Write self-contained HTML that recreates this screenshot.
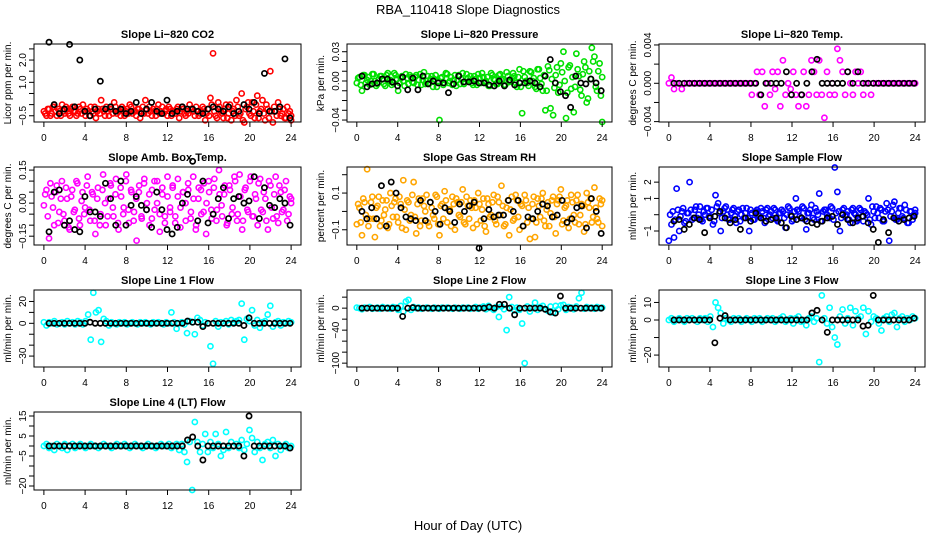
<!DOCTYPE html>
<html><head><meta charset="utf-8"><style>
html,body{margin:0;padding:0;background:#fff;}
svg{display:block;font-family:"Liberation Sans",Arial,sans-serif;}
</style></head><body>
<svg id="fig" width="936" height="540" viewBox="0 0 936 540" xmlns="http://www.w3.org/2000/svg">
<text x="468" y="14" text-anchor="middle" font-size="13">RBA_110418  Slope Diagnostics</text>
<text x="468" y="530" text-anchor="middle" font-size="13">Hour of Day (UTC)</text>
</svg>
<script>
const xTicks = [0,4,8,12,16,20,24];
const co2 = [-0.3,-0.5,-0.2,-0.4,-0.1,-0.5,-0.3,0.0,-0.4,-0.2,-0.5,-0.1,-0.3,-0.4,-0.2,0.0,-0.5,-0.3,-0.1,-0.4,-0.6,-0.2,0.2,-0.3,-0.1,-0.5,-0.2,0.1,-0.4,-0.3,-0.1,-0.5,-0.2,0.0,-0.4,-0.3,-0.2,-0.6,-0.1,0.2,-0.4,-0.3,-0.2,-0.5,0.0,-0.3,-0.4,-0.2,-0.1,-0.5,-0.3,-0.2,-0.6,-0.1,-0.4,-0.3,0.0,-0.2,-0.5,-0.3,-0.4,-0.1,-0.7,-0.2,0.3,2.3,-0.5,0.1,-0.3,-0.6,0.0,-0.4,-0.7,-0.2,0.2,-0.5,0.5,-0.8,-0.1,-0.4,0.1,-0.6,0.4,-0.3,0.2,-0.7,-0.2,1.5,-0.8,-0.3,0.1,-0.5,-0.2,-0.6,-0.4,-0.7];
const co2B = [-0.4,-0.2,-0.5,-0.1,-0.3,-0.2,-0.5,-0.3,-0.1,-0.4,-0.2,-0.3,-0.5,-0.1,-0.4,-0.3,-0.2,-0.5,-0.3,-0.1,-0.3,-0.4,-0.2,-0.5,-0.3,-0.2,-0.4,-0.1,-0.3,-0.5,-0.2,-0.3,-0.4,-0.1,-0.3,-0.5,-0.2,-0.3,-0.4,-0.2,-0.1,-0.5,-0.3,-0.2,-0.4,-0.1,-0.3,-0.5,-0.2,-0.3,-0.4,-0.1,-0.3,-0.2,-0.5,-0.4,-0.2,-0.3,-0.1,-0.5,-0.3,-0.2,-0.4,-0.5,0.0,-0.3,-0.6,-0.1,-0.4,-0.2,-0.6,0.0,-0.3,-0.5,-0.1,-0.4,-0.7,-0.2,0.1,-0.5,-0.3,0.0,-0.6,-0.2,-0.4,0.0,-0.6,-0.3,-0.1,-0.5,-0.2,-0.4,-0.6,-0.1,-0.3,-0.5];
const co2Black = [2.8,0.0,-0.4,-0.2,2.7,-0.1,2.0,-0.3,-0.5,-0.2,1.05,-0.2,-0.1,-0.3,-0.2,-0.4,-0.3,0.1,-0.4,-0.2,0.1,-0.3,-0.4,0.2,-0.4,-0.3,-0.1,-0.2,-0.2,-0.3,-0.4,-0.2,-0.1,-0.2,-0.3,-0.1,-0.4,-0.3,0.0,-0.2,0.1,-0.4,1.4,-0.3,-0.3,-0.1,2.05,-0.6];
const pres = [-0.002,0.004,-0.01,0.006,0.001,-0.004,0.007,0.0,-0.003,0.005,0.002,-0.005,0.008,0.001,-0.002,0.006,-0.01,0.003,0.0,0.007,-0.003,0.004,-0.002,0.006,0.001,-0.004,0.009,0.0,-0.002,0.005,0.002,-0.006,-0.04,0.004,-0.002,0.007,0.0,-0.004,0.006,0.001,-0.003,0.008,-0.001,0.003,0.005,-0.004,0.002,0.007,-0.002,0.004,0.0,-0.005,0.008,0.002,-0.003,0.006,0.001,-0.004,0.009,-0.001,0.003,0.005,-0.006,0.012,-0.033,0.004,-0.002,0.01,0.0,-0.006,0.012,0.003,-0.01,-0.03,0.015,-0.028,-0.035,0.006,-0.012,0.018,0.03,-0.038,0.014,-0.008,-0.032,0.028,0.005,-0.015,0.02,-0.022,0.01,0.034,0.025,-0.01,0.018,-0.042];
const presB = [0.003,-0.004,0.006,-0.002,0.004,0.0,0.007,-0.005,0.002,0.005,-0.003,0.006,0.0,-0.004,0.008,0.002,-0.002,0.005,-0.005,0.003,0.006,-0.001,0.004,-0.004,0.007,0.001,-0.003,0.005,0.002,-0.006,0.006,0.0,0.003,-0.004,0.008,-0.002,0.004,0.001,-0.005,0.006,0.002,-0.003,0.007,0.0,-0.002,0.005,-0.004,0.003,0.008,-0.001,0.004,-0.005,0.006,0.001,-0.003,0.007,0.002,-0.004,0.005,0.0,0.008,-0.002,0.004,-0.006,0.01,0.0,-0.005,0.009,0.003,-0.008,0.012,-0.003,0.006,-0.01,0.011,0.002,-0.007,0.014,-0.004,0.009,0.0,-0.012,0.016,0.004,-0.006,0.012,-0.009,0.007,0.014,-0.018,0.002,0.02,-0.006,0.01,-0.015,0.004];
const presBlack = [0.005,-0.006,-0.003,-0.002,0.002,0.002,-0.001,-0.005,0.004,-0.009,0.003,-0.009,0.005,-0.003,0.0,-0.002,-0.002,-0.012,-0.003,0.005,-0.001,-0.001,0.0,-0.002,-0.002,-0.004,-0.005,0.0,-0.005,0.001,-0.004,-0.002,-0.002,0.0,-0.002,-0.006,0.005,0.022,-0.002,-0.011,-0.015,-0.027,0.005,-0.002,-0.003,0.002,-0.002,-0.01];
const temp = [0,0.0006,-0.0006,0,0,-0.0006,0,0,0,0,0,0,0,0,0,0,0,0,0,0,0,0,0,0,0,0,0,0,0,0,0,0,
-0.0012,0,0.0012,-0.0012,0.0012,-0.0024,0,-0.0012,0.0012,
-0.0006,0.0012,-0.0024,0.0024,-0.0012,0,-0.0006,0.0012,-0.0012,-0.0024,
-0.0012,0.0012,-0.0024,-0.0012,0.0024,0.0012,-0.0012,0.0024,-0.0012,-0.0036,
0.0012,-0.0012,0,-0.0012,0.0036,0.0024,0.0012,-0.0012,0.0012,0,
-0.0012,0.0012,0,0.0012,-0.0012,0,0,-0.0012,0,0,0,0,0,
0,0,0,0,0,0,0,0,0,0,0,0];
const tempBlack = [0,0,0,0,0,0,0,0,0,0,0,0,0,0,0,0,0,-0.0012,0,0,0,0,0.0012,-0.0012,0,-0.0012,0,0.0012,0.0025,0,0,0,0,0,0.0012,0,0.0012,0,0,0,0,0,0,0,0,0,0,0];
const amb = [-0.01,0.06,-0.16,0.03,-0.1,0.08,-0.04,0.1,-0.08,0.02,-0.12,0.06,-0.03,0.09,-0.1,0.05,-0.02,0.12,-0.08,0.04,-0.14,0.07,-0.05,0.13,-0.1,0.02,0.08,-0.06,0.11,-0.12,0.03,-0.02,0.13,-0.09,0.05,-0.04,-0.17,0.08,-0.07,0.11,0.0,-0.1,0.06,-0.03,0.1,-0.13,0.04,-0.06,0.12,-0.02,0.07,-0.09,0.03,-0.11,0.05,0.0,0.09,-0.07,0.12,-0.12,0.02,0.06,-0.04,-0.14,0.1,-0.03,0.07,-0.08,0.15,-0.01,0.04,-0.1,0.08,-0.05,0.12,-0.08,0.13,-0.12,0.06,-0.03,0.1,-0.06,0.04,-0.1,0.11,-0.04,0.02,-0.12,0.08,-0.07,0.12,-0.09,0.05,-0.03,0.1,-0.05,0.0];
const ambB = [0.04,-0.06,0.09,-0.02,0.05,-0.09,0.02,-0.05,0.07,-0.11,0.03,-0.04,0.1,-0.07,0.01,-0.05,0.08,-0.03,0.05,-0.08,0.02,-0.1,0.06,0.0,-0.06,0.09,-0.02,0.04,-0.09,0.07,-0.05,0.1,-0.03,0.06,-0.08,0.02,0.05,-0.06,0.09,-0.03,0.04,-0.07,0.1,0.0,-0.05,0.07,-0.09,0.03,-0.04,0.08,-0.06,0.11,-0.02,0.05,-0.08,0.06,-0.04,0.02,-0.1,0.07,-0.05,0.09,0.0,0.05,-0.07,0.11,-0.03,0.04,-0.06,0.08,-0.09,0.06,-0.02,0.1,-0.05,0.03,-0.08,0.07,-0.04,0.12,-0.06,0.02,0.09,-0.03,0.05,-0.08,0.1,-0.02,0.04,-0.06,0.08,-0.04,0.06,-0.08,0.03,0.02];
const ambBlack = [-0.13,0.05,0.06,-0.1,-0.08,-0.12,-0.13,0.03,-0.04,-0.04,-0.06,0.09,0.02,-0.1,0.1,-0.1,-0.01,0.03,-0.01,-0.03,-0.11,0.05,-0.03,-0.12,-0.14,-0.11,0.0,0.04,0.19,-0.08,0.1,-0.09,-0.05,0.02,0.07,-0.07,0.02,0.03,0.0,0.01,0.12,-0.07,0.07,-0.01,-0.02,0.02,0.0,-0.1];
const rh = [-0.07,0.02,-0.13,0.05,0.23,-0.04,0.08,-0.14,0.03,-0.08,0.06,0.01,-0.09,0.1,-0.03,0.07,-0.06,0.04,0.17,-0.1,0.05,-0.02,0.16,-0.12,0.07,-0.05,0.03,0.09,-0.08,0.02,-0.04,0.08,-0.13,0.04,0.11,-0.06,0.01,0.08,-0.1,0.05,-0.03,0.12,-0.07,0.03,0.06,-0.09,0.02,0.1,-0.05,0.07,-0.11,0.04,-0.02,0.09,-0.07,0.05,0.14,-0.08,0.02,-0.13,0.08,-0.04,0.06,-0.1,0.03,0.09,-0.06,-0.15,0.04,-0.14,0.07,-0.03,0.1,-0.08,0.05,-0.01,0.08,-0.12,0.06,0.12,-0.05,0.03,-0.09,0.09,-0.02,0.06,-0.07,0.04,-0.11,0.1,0.02,-0.06,0.13,-0.04,0.07,-0.08];
const rhB = [0.04,-0.06,0.07,-0.02,-0.08,0.05,-0.04,0.02,0.08,-0.05,-0.02,0.06,-0.07,0.03,0.05,-0.03,0.08,-0.09,0.01,0.06,-0.05,0.09,-0.03,0.04,-0.08,0.07,0.0,-0.06,0.05,-0.02,0.09,-0.07,0.03,-0.04,0.06,0.01,-0.08,0.04,0.07,-0.02,0.05,-0.06,0.08,-0.04,0.02,0.06,-0.07,0.04,0.01,-0.08,0.07,-0.03,0.05,-0.05,0.08,-0.02,0.03,-0.07,0.06,0.01,-0.05,0.09,-0.03,0.04,-0.08,0.06,0.02,-0.04,0.08,-0.06,0.03,0.07,-0.05,0.01,-0.08,0.06,-0.03,0.04,0.08,-0.07,0.02,0.06,-0.04,0.05,-0.06,0.09,-0.02,0.03,-0.07,0.05,0.07,-0.03,0.02,-0.06,0.04,0.06];
const rhBlack = [0.0,-0.04,0.02,-0.04,0.14,-0.08,0.16,0.1,0.02,-0.03,-0.04,-0.05,0.06,-0.05,0.05,0.0,-0.07,0.02,0.0,-0.06,0.04,0.0,0.03,0.05,-0.2,-0.04,0.01,-0.03,-0.02,-0.02,0.06,0.0,0.06,-0.08,-0.03,-0.04,0.0,0.04,0.03,-0.03,-0.02,0.06,-0.06,-0.04,0.02,0.03,-0.09,0.07,0.0,-0.12];
const sflow = [-1.6,-0.6,-1.4,1.6,-1.0,0.2,-0.5,0.1,2.0,-0.3,0.3,-0.2,0.5,-0.4,0.0,0.4,-0.1,-0.6,1.2,0.7,-1.0,0.2,0.5,-0.3,0.1,0.4,-0.5,0.3,0.0,-0.2,0.4,-1.0,0.1,-0.3,0.3,-0.1,0.2,-0.5,0.4,0.0,-0.2,0.3,-0.4,0.1,0.2,-0.8,0.5,0.0,-0.3,1.0,0.2,-0.2,0.4,-0.9,0.1,0.6,-0.3,0.2,1.3,-0.4,0.3,0.0,-0.2,0.4,2.9,1.4,-1.0,0.3,-0.1,0.2,-0.5,0.4,0.0,-0.3,0.3,-0.4,0.1,1.0,-0.6,0.2,0.5,-0.2,0.3,-0.4,0.7,-1.6,0.2,0.8,-0.3,0.4,-0.1,0.6,-0.5,0.2,-0.3,0.1];
const sflowB = [0.0,0.2,-0.3,0.3,-0.1,0.4,-0.4,0.1,0.3,-0.2,0.5,0.0,-0.3,0.2,0.4,-0.1,0.3,-0.4,0.5,0.1,-0.2,0.4,0.0,-0.3,0.3,-0.1,0.2,-0.4,0.4,0.1,-0.2,0.3,-0.3,0.2,0.0,0.4,-0.2,0.3,-0.1,0.2,0.4,-0.3,0.1,0.3,-0.2,0.0,0.4,-0.4,0.2,0.3,-0.1,0.5,-0.3,0.1,0.3,-0.2,0.4,0.0,-0.4,0.2,0.3,-0.1,0.5,-0.3,0.1,0.2,-0.2,0.4,0.0,-0.3,0.3,0.1,-0.4,0.4,-0.1,0.2,0.0,-0.3,0.5,-0.2,0.1,0.4,-0.4,0.2,0.3,-0.1,0.6,-0.3,0.1,0.4,-0.2,0.3,-0.5,0.2,0.0,0.3];
const sflowBlack = [-0.4,-0.3,-0.9,-0.6,-0.2,-0.3,-1.1,-0.2,-0.1,0.2,-0.2,-0.5,-0.3,-0.9,-0.2,-0.4,0.1,-0.2,-0.4,-0.3,-0.2,-0.5,-0.8,-0.1,-0.3,-0.2,-0.4,-0.5,-0.6,-0.4,-0.2,-0.1,-0.6,0.0,-0.3,-0.5,-0.2,-0.1,-0.5,-0.9,-1.7,-0.3,-1.1,-0.2,-0.4,-0.3,-0.2,-0.1];
const line1 = [1,-2,1,0,2,-1,0,1,-1,2,0,1,-1,2,1,-1,2,8,-15,28,10,12,-17,4,2,-2,1,0,-1,1,0,1,-1,0,1,0,-1,1,0,1,0,-1,1,0,1,0,-1,1,0,10,1,-5,0,1,-1,-9,2,1,-10,5,3,-2,1,0,-21,-37,2,-3,1,0,2,-1,3,1,2,3,18,-15,4,2,12,-2,3,-4,1,2,8,16,-3,1,2,-2,1,0,2,1];
const line1Black = [0,0,0,0,0,0,0,0,1,0,0,0,0,0,0,0,0,0,0,0,0,0,0,0,0,0,0,2,1,1,-3,0,0,0,0,0,0,0,-2,5,0,0,0,0,0,0,0,0];
const line2 = [1,0,-2,1,0,2,-1,0,1,-1,2,0,1,-1,2,1,-3,4,-6,12,15,-3,2,0,1,-1,0,1,0,-1,1,0,-1,1,0,1,0,-1,1,0,-1,1,0,1,-1,0,2,-1,1,3,-2,4,0,-3,2,-16,3,-2,-40,20,2,-4,1,-3,-28,-100,3,-6,1,10,-3,2,4,-2,-5,3,-8,4,-2,5,6,-3,2,1,-2,3,18,28,-1,2,0,1,-1,2,0,1];
const line2Black = [0,0,0,0,0,0,0,0,-15,0,1,0,0,0,0,0,0,0,0,0,0,0,0,0,0,2,0,7,7,0,-12,0,0,0,0,0,-2,-7,-9,22,0,0,0,0,0,0,0,0];
const line3 = [0,1,-1,0,1,0,-1,1,0,1,0,-1,1,0,1,-1,2,-4,10,7,4,-2,1,0,-1,1,0,1,-1,0,1,0,-1,1,0,1,-1,0,1,0,1,-1,0,1,2,-1,0,1,-2,1,2,-1,0,-3,1,2,-1,1,-24,14,1,-2,7,-4,-10,-14,2,6,-2,1,7,-3,5,1,2,7,-8,5,-1,2,1,-2,-6,1,2,-1,3,4,-4,1,2,-1,1,0,2,1];
const line3Black = [0,0,0,0,0,0,0,0,-13,1,2.5,0,0,0,0,0,0,0,0,0,0,0,0,0,0,0,0,4,5.5,0,-7,0,0,0,0,0,0,-3.5,-3,14,0,0,0,0,0,0,0,1];
const line4 = [0,1,-1,0,-2,1,0,-1,1,-2,0,1,-1,0,1,0,-1,0,1,0,0,-1,0,1,0,0,-1,0,1,0,0,1,0,-1,0,1,0,0,-1,0,1,0,0,-1,0,1,0,0,1,-1,0,1,-2,1,-3,-8,2,-22,12,2,-3,1,6,-3,2,-1,6,1,-5,-2,7,-1,2,0,1,-1,3,-2,1,8,4,-3,2,-1,-7,1,2,-1,3,-5,1,-2,0,1,-1,0];
const line4Black = [0,0,0,0,0,0,0,0,0,0,0,0,0,0,0,0,0,0,0,0,0,0,0,0,0,0,0,3,4.5,0,-7,0,0,0,0,0,0,0,-5,15,0,0,0,0,0,0,0,-1];

const colX = [[34,301],[347,612],[659,925]];
const rowY = [[44,122],[167,245],[290,367],[412,490]];
const panels = [
 {name:'co2',title:'Slope Li\u2212820 CO2',ylab:'Licor ppm per min.',c:0,r:0,ymin:-0.78,ymax:2.72,ticks:[-0.5,0,0.5,1,1.5,2,2.5],labels:{'-0.5':'\u22120.5','1':'1.0','2':'2.0'},col:'#ff0000',data:co2,data2:co2B,black:co2Black},
 {name:'pressure',title:'Slope Li\u2212820 Pressure',ylab:'kPa per min.',c:1,r:0,ymin:-0.042,ymax:0.0379,ticks:[-0.04,-0.03,-0.02,-0.01,0,0.01,0.02,0.03],labels:{'-0.04':'\u22120.04','0':'0.00','0.03':'0.03'},col:'#00e000',data:pres,data2:presB,black:presBlack},
 {name:'li820-temp',title:'Slope Li\u2212820 Temp.',ylab:'degrees C per min.',c:2,r:0,ymin:-0.00404,ymax:0.0041,ticks:[-0.004,-0.002,0,0.002,0.004],labels:{'-0.004':'\u22120.004','0':'0.000','0.004':'0.004'},col:'#ff00ff',data:temp,black:tempBlack},
 {name:'amb-box-temp',title:'Slope Amb. Box Temp.',ylab:'degrees C per min.',c:0,r:1,ymin:-0.19,ymax:0.164,ticks:[-0.15,-0.1,-0.05,0,0.05,0.1,0.15],labels:{'-0.15':'\u22120.15','0':'0.00','0.15':'0.15'},col:'#ff00ff',data:amb,data2:ambB,black:ambBlack},
 {name:'gas-stream-rh',title:'Slope Gas Stream RH',ylab:'percent per min.',c:1,r:1,ymin:-0.183,ymax:0.242,ticks:[-0.1,0,0.1,0.2],labels:{'-0.1':'\u22120.1','0.1':'0.1'},col:'#ffa500',data:rh,data2:rhB,black:rhBlack},
 {name:'sample-flow',title:'Slope Sample Flow',ylab:'ml/min per min.',c:2,r:1,ymin:-1.86,ymax:2.93,ticks:[-1,0,1,2],labels:{'-1':'\u22121','1':'1','2':'2'},col:'#0000ff',data:sflow,data2:sflowB,black:sflowBlack},
 {name:'line1-flow',title:'Slope Line 1 Flow',ylab:'ml/min per min.',c:0,r:2,ymin:-40,ymax:30.5,ticks:[-30,-20,-10,0,10,20],labels:{'-30':'\u221230','0':'0','20':'20'},col:'#00ffff',data:line1,black:line1Black},
 {name:'line2-flow',title:'Slope Line 2 Flow',ylab:'ml/min per min.',c:1,r:2,ymin:-107,ymax:33,ticks:[-100,-80,-60,-40,-20,0,20],labels:{'-100':'\u2212100','-40':'\u221240','0':'0'},col:'#00ffff',data:line2,black:line2Black},
 {name:'line3-flow',title:'Slope Line 3 Flow',ylab:'ml/min per min.',c:2,r:2,ymin:-26.8,ymax:17.1,ticks:[-20,-10,0,10],labels:{'-20':'\u221220','0':'0','10':'10'},col:'#00ffff',data:line3,black:line3Black},
 {name:'line4-flow',title:'Slope Line 4 (LT) Flow',ylab:'ml/min per min.',c:0,r:3,ymin:-22,ymax:17,ticks:[-20,-15,-10,-5,0,5,10,15],labels:{'-20':'\u221220','-5':'\u22125','5':'5','15':'15'},col:'#00ffff',data:line4,black:line4Black}
];

const NS='http://www.w3.org/2000/svg';
const svg=document.getElementById('fig');
function mk(tag,attrs,parent){const e=document.createElementNS(NS,tag);for(const k in attrs)e.setAttribute(k,attrs[k]);(parent||svg).appendChild(e);return e;}

panels.forEach(p=>{
  const [x0,x1]=colX[p.c],[y0,y1]=rowY[p.r];
  const xs=h=>x0+(h+0.96)/25.92*(x1-x0);
  const ys=v=>y1-(v-p.ymin)/(p.ymax-p.ymin)*(y1-y0);
  const g=mk('g',{});
  
  
  const t=mk('text',{x:(x0+x1)/2,y:y0-6,'text-anchor':'middle','font-size':'11','font-weight':'bold'},g);
  t.textContent=p.title;
  
  
  const yl=mk('text',{transform:`translate(${x0-23},${(y0+y1)/2}) rotate(-90)`,'text-anchor':'middle','font-size':'10'},g);
  yl.textContent=p.ylab;
  
  
  const pts=mk('g',{fill:'none'},g);
  
  
  const drawSeries=(arr,off)=>{
    const n=arr.length;
    arr.forEach((v,i)=>{
      const h=Math.min(24,(i+off)*24/(n-1));
      const c=mk('circle',{cx:xs(h),cy:ys(v),r:2.6,stroke:p.col,'stroke-width':1.6},pts);
      
      
    });
  };
  drawSeries(p.data,0);
  if(p.data2) drawSeries(p.data2,0.5);
  const nb=p.black.length;
  const bpts=mk('g',{fill:'none'},g);
  
  
  p.black.forEach((v,i)=>{
    const h=0.5+i*23.4/(nb-1);
    const c=mk('circle',{cx:xs(h),cy:ys(v),r:2.6,stroke:'#000','stroke-width':1.7},bpts);
    
    
  });
  const box=mk('rect',{x:x0,y:y0,width:x1-x0,height:y1-y0,fill:'none',stroke:'#000','stroke-width':1},g);
  
  
  const xa=mk('g',{},g);
  
  
  mk('line',{x1:xs(0),x2:xs(24),y1:y1,y2:y1,stroke:'#000'},xa);
  xTicks.forEach(tk=>{
    mk('line',{x1:xs(tk),x2:xs(tk),y1:y1,y2:y1+5,stroke:'#000'},xa);
    const tl=mk('text',{x:xs(tk),y:y1+19,'text-anchor':'middle','font-size':'10'},xa);
    tl.textContent=tk;
    
    
  });
  const ya=mk('g',{},g);
  
  
  p.ticks.forEach(tk=>{
    const y=ys(tk);
    mk('line',{x1:x0-5,x2:x0,y1:y,y2:y,stroke:'#000'},ya);
    const lab=p.labels[String(tk)];
    if(lab!==undefined){
      const tl=mk('text',{transform:`translate(${x0-8},${y}) rotate(-90)`,'text-anchor':'middle','font-size':'10'},ya);
      tl.textContent=lab;
      
      
    }
  });
});
</script>
</body></html>
